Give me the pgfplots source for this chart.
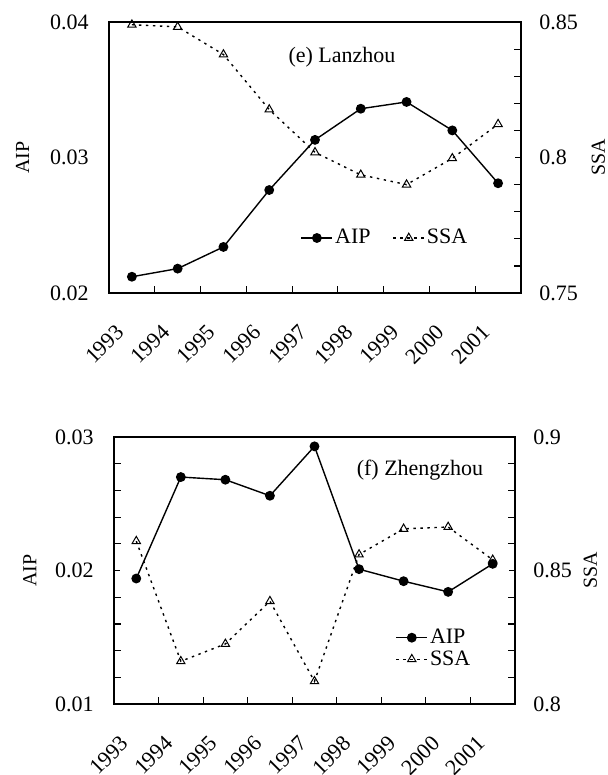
\documentclass[border=0pt]{standalone}
\usepackage{fontspec}
\setmainfont{Liberation Serif}
\usepackage{pgfplots}
\usepackage{pgfplotstable}
\pgfplotsset{compat=1.18}

\pgfplotstableread{
idx aip ssa
0 0.0212 0.8490
1 0.0218 0.8482
2 0.0234 0.8380
3 0.0276 0.8177
4 0.0313 0.8019
5 0.0336 0.7936
6 0.0341 0.7900
7 0.0320 0.7997
8 0.0281 0.8123
}\lanzhou

\pgfplotstableread{
idx aip ssa
0 0.0194 0.8610
1 0.0270 0.8160
2 0.0268 0.8225
3 0.0256 0.8385
4 0.0293 0.8085
5 0.0201 0.8560
6 0.0192 0.8656
7 0.0184 0.8663
8 0.0205 0.8540
}\zhengzhou

\newcommand\fs{\fontsize{11bp}{13bp}\selectfont}

\pgfplotsset{
  base/.style={
    scale only axis, xmin=-0.5, xmax=8.5,
    scaled y ticks=false,
    axis line style={line width=1bp},
    /pgf/number format/assume math mode=true,
    tick label style={font=\fs}, label style={font=\fs},
    tick align=inside, major tick length=3bp, minor tick length=3.5bp,
    tick style={black, line width=0.6bp},
  },
  aipaxis/.style={
    base,
    xtick={0,...,8},
    xticklabels={1993,1994,1995,1996,1997,1998,1999,2000,2001},
    major x tick style={draw=none},
    minor xtick={0.5,1.5,...,7.5},
    xtick pos=bottom,
    xticklabel style={xshift=-8.5bp, yshift=-15bp, rotate=45, anchor=north east, inner sep=0pt},
    ytick pos=left,
    yticklabel style={anchor=east, inner sep=0pt, xshift=-10bp},
    every axis y label/.style={at={(axis description cs:-0.21,0.5)}, rotate=90, anchor=center},
    ylabel={AIP},
  },
  ssaaxis/.style={
    base,
    axis x line=none, axis y line*=right,
    yticklabel style={anchor=west, inner sep=0pt, xshift=9bp},
    every axis y label/.style={at={(axis description cs:1.188,0.5)}, rotate=90, anchor=center},
    ylabel={SSA},
    legend style={draw=none, fill=none, font=\fs, nodes={inner sep=1bp},
      /tikz/every even column/.append style={column sep=10bp}},
    legend image code/.code={\draw[mark repeat=2,mark phase=2] plot coordinates {(0bp,0bp)(7.75bp,0bp)(15.5bp,0bp)};},
  },
  aipline/.style={black, line width=0.7bp, mark=*, mark size=2.1bp, mark options={solid, fill=black}},
  ssaline/.style={black, line width=0.7bp, dash pattern=on 1.2bp off 2.3bp, mark=triangle, mark size=2.4bp, mark options={solid, line width=0.5bp, fill=white}},
}

\begin{document}
\begin{tikzpicture}
\path[use as bounding box] (0,0) rectangle (304bp,-387.5bp);

% (e) Lanzhou
\begin{axis}[aipaxis, at={(54.5bp,-146.5bp)}, anchor=south west,
  width=206bp, height=135.5bp,
  ymin=0.02, ymax=0.04, ytick={0.02,0.03,0.04}, yticklabels={0.02,0.03,0.04},
  ytick style={draw=none}]
  \addplot[aipline] table[x=idx, y=aip] {\lanzhou};
\end{axis}
\begin{axis}[ssaaxis, at={(54.5bp,-146.5bp)}, anchor=south west,
  width=206bp, height=135.5bp,
  ymin=0.75, ymax=0.85, ytick={0.75,0.8,0.85}, yticklabels={0.75,0.8,0.85},
  minor y tick num=4, legend columns=2,
  legend style={at={(axis description cs:0.67,0.203)}, anchor=center}]
  \addlegendimage{aipline}
  \addlegendentry{AIP}
  \addplot[ssaline] table[x=idx, y=ssa] {\lanzhou};
  \addlegendentry{SSA}
\end{axis}
\node[font=\fs] at (171bp,-28.5bp) {(e) Lanzhou};

% (f) Zhengzhou
\begin{axis}[aipaxis, at={(57bp,-352bp)}, anchor=south west,
  width=200.5bp, height=133.5bp,
  ymin=0.01, ymax=0.03, ytick={0.01,0.02,0.03}, yticklabels={0.01,0.02,0.03},
  minor y tick num=4]
  \addplot[aipline] table[x=idx, y=aip] {\zhengzhou};
\end{axis}
\begin{axis}[ssaaxis, at={(57bp,-352bp)}, anchor=south west,
  width=200.5bp, height=133.5bp,
  ymin=0.8, ymax=0.9, ytick={0.8,0.85,0.9}, yticklabels={0.8,0.85,0.9},
  minor y tick num=4, legend cell align=left,
  legend style={at={(axis description cs:0.798,0.208)}, anchor=center}]
  \addlegendimage{aipline}
  \addlegendentry{AIP}
  \addplot[ssaline] table[x=idx, y=ssa] {\zhengzhou};
  \addlegendentry{SSA}
\end{axis}
\node[font=\fs] at (210bp,-235bp) {(f) Zhengzhou};
\end{tikzpicture}
\end{document}
